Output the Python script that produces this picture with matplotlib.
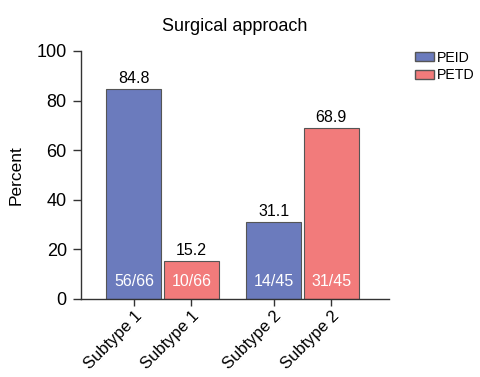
import matplotlib.pyplot as plt
from matplotlib.patches import Patch

plt.rcParams['font.family'] = ['Liberation Sans', 'DejaVu Sans']

categories = ["Subtype 1", "Subtype 1", "Subtype 2", "Subtype 2"]
groups = ["PEID", "PETD", "PEID", "PETD"]
percent = [84.8, 15.2, 31.1, 68.9]
counts = ["56/66", "10/66", "14/45", "31/45"]

colors = {"PEID": "#6b7bbd", "PETD": "#f27b7b"}
x_pos = [0, 1, 2.43, 3.43]

fig = plt.figure(figsize=(4.8, 3.77), dpi=100)
ax = fig.add_axes([0.168, 0.207, 0.642, 0.658])

bar_colors = [colors[g] for g in groups]
ax.bar(x_pos, percent, width=0.957, color=bar_colors,
       edgecolor='#555555', linewidth=0.8)

for x, p, c in zip(x_pos, percent, counts):
    # value above the bar, n/N inside at the bottom
    ax.text(x, p + 1.2, f"{p:.1f}", ha='center', va='bottom', fontsize=11.5)
    ax.text(x, 7, c, ha='center', va='center', fontsize=11.5, color='white')

ax.set_xlim(-0.927, 4.43)
ax.set_ylim(0, 100)
ax.set_yticks([0, 20, 40, 60, 80, 100])
ax.set_xticks(x_pos)
ax.set_xticklabels(categories, rotation=45, ha='right',
                   rotation_mode='anchor', fontsize=12)
ax.tick_params(axis='y', labelsize=13, length=6, width=1, color='#333333', pad=4)
ax.tick_params(axis='x', length=5, width=1, color='#333333', pad=2)
ax.set_ylabel("Percent", fontsize=12.5, labelpad=9)
ax.set_title("Surgical approach", fontsize=13, pad=14)

for side in ['top', 'right']:
    ax.spines[side].set_visible(False)
for side in ['left', 'bottom']:
    ax.spines[side].set_color('#333333')
    ax.spines[side].set_linewidth(1)

handles = [Patch(facecolor=colors[g], edgecolor='#555555', label=g)
           for g in ["PEID", "PETD"]]
fig.legend(handles=handles, loc='upper left', bbox_to_anchor=(0.853, 0.88),
           frameon=False, fontsize=10.2, handlelength=1.3, handleheight=0.6,
           handletextpad=0.25, labelspacing=0.25, borderaxespad=0)

fig.savefig("out.png", dpi=100)
